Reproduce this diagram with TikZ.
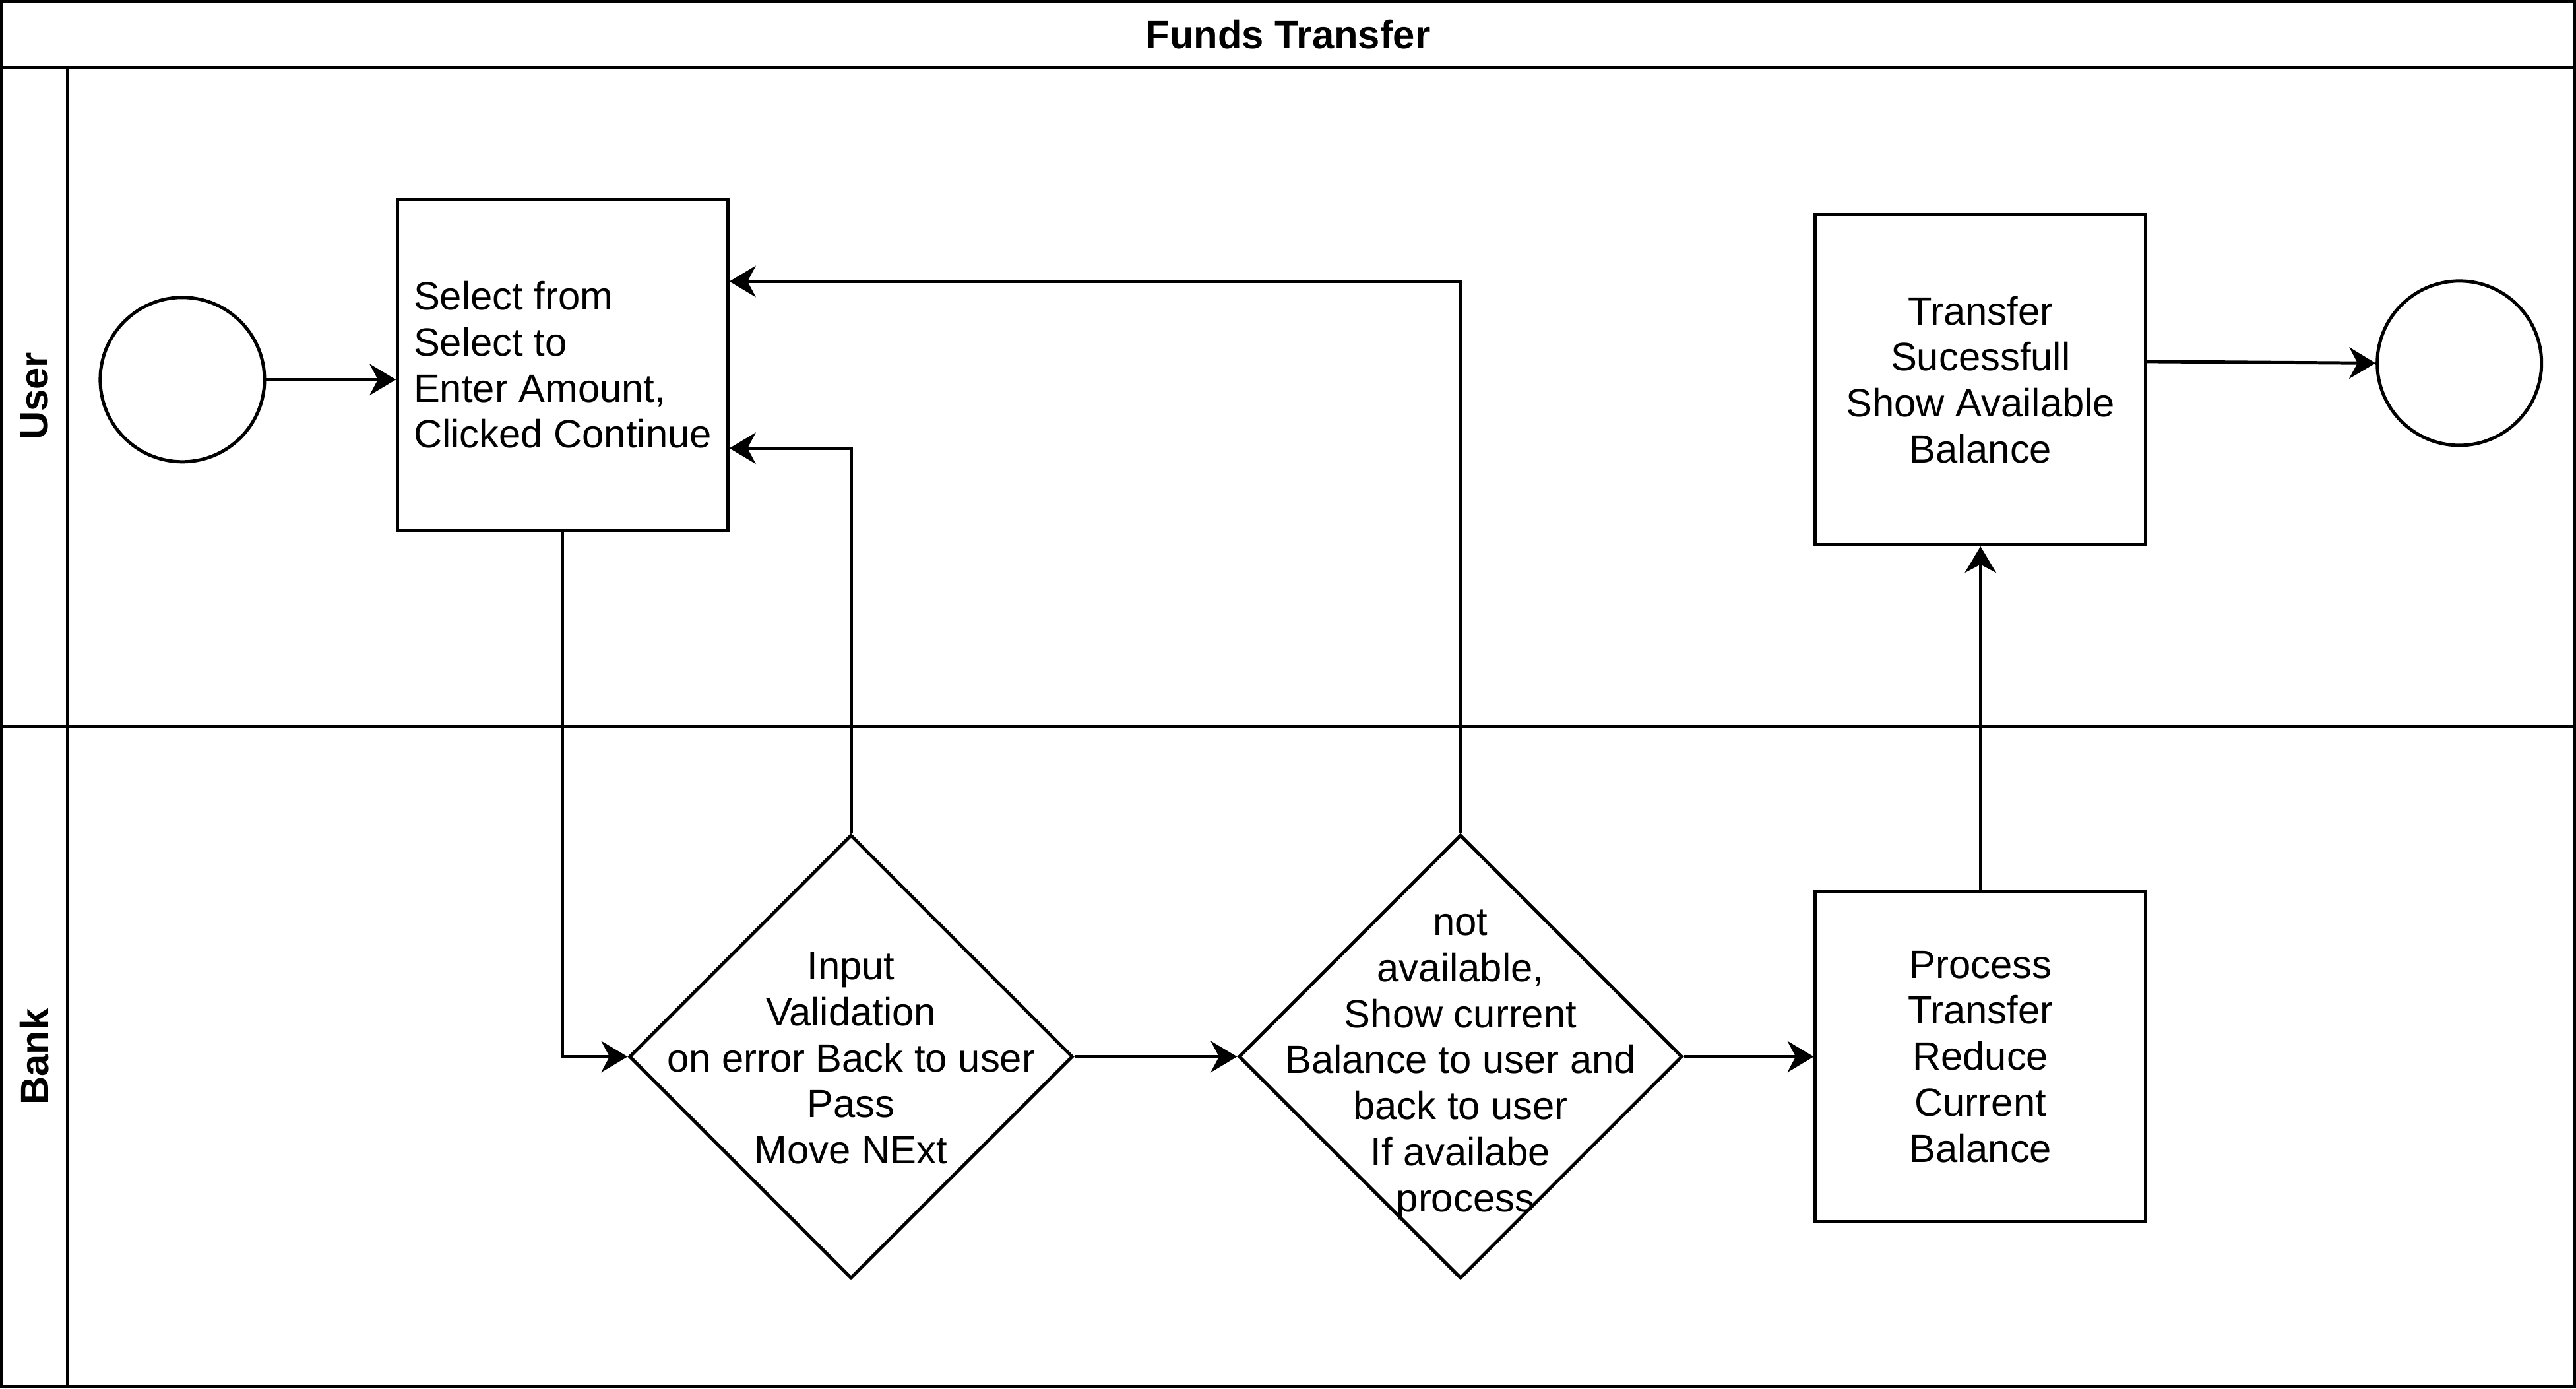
\documentclass[tikz,border=0pt]{standalone}
\usepackage{fontspec}
\setmainfont{Liberation Sans}
\usetikzlibrary{positioning,shapes.geometric,arrows.meta,calc}

\begin{document}
\begin{tikzpicture}[x=0.5pt,y=-0.5pt,->,>={Stealth[length=8pt,width=9.5pt,inset=2.5pt]},line width=1pt,
      font=\fontsize{12}{14}\selectfont,
      block/.style={rectangle, draw, minimum width=100.5pt, minimum height=100.5pt, inner sep=0pt, align=center},
      decision/.style={diamond, draw, minimum width=135pt, minimum height=135pt, inner sep=0pt},
      state/.style={circle, draw, minimum size=50pt, inner sep=0pt},
      lane/.style={font=\bfseries\fontsize{12}{14}\selectfont, rotate=90}]

    \useasboundingbox (0,0) rectangle (1568,845);
    % pool and lanes
    \draw[-] (1,1) rectangle (1567,844);
    \draw[-] (1,41) -- (1567,41);
    \draw[-] (1,442) -- (1567,442);
    \draw[-] (41,41) -- (41,844);
    \node[font=\bfseries\fontsize{12}{14}\selectfont] (title) at (784,21) {Funds Transfer};
    \node[lane] (user) at (21,241) {User};
    \node[lane] (bank) at (21,643) {Bank};

    \node[state] (start) at (111,231) {};
    \node[block, align=left] (1) at (342.5,222) {Select from\\Select to\\Enter Amount,\\Clicked Continue};
    \node[decision] (2) at (518,643) {};
    \node[align=center] (2t) at (518,644) {Input\\Validation\\on error Back to user\\Pass\\Move NExt};
    \node[decision] (3) at (889,643) {};
    \node[align=center] (3t) at (889,648) {not\\available,\\Show current\\Balance to user and\\back to user\\If availabe\\\hspace*{3pt}process};
    \node[block] (4) at (1205.5,643) {Process\\Transfer\\Reduce\\Current\\Balance};
    \node[block] (5) at (1205.5,231) {Transfer\\Sucessfull\\Show Available\\Balance};
    \node[state] (stop) at (1497,221) {};

    \path
    (start) edge (start -| 1.west)
    (2.east) edge (3.west)
    (3.east) edge (4.west)
    (4.north) edge (5.south)
    ([yshift=5.5pt]5.east) edge (stop.west);
    \draw (1.south) |- (2.west);
    \draw (2.north) |- ($(1.north east)!0.75!(1.south east)$);
    \draw (3.north) |- ($(1.north east)!0.25!(1.south east)$);
\end{tikzpicture}
\end{document}
